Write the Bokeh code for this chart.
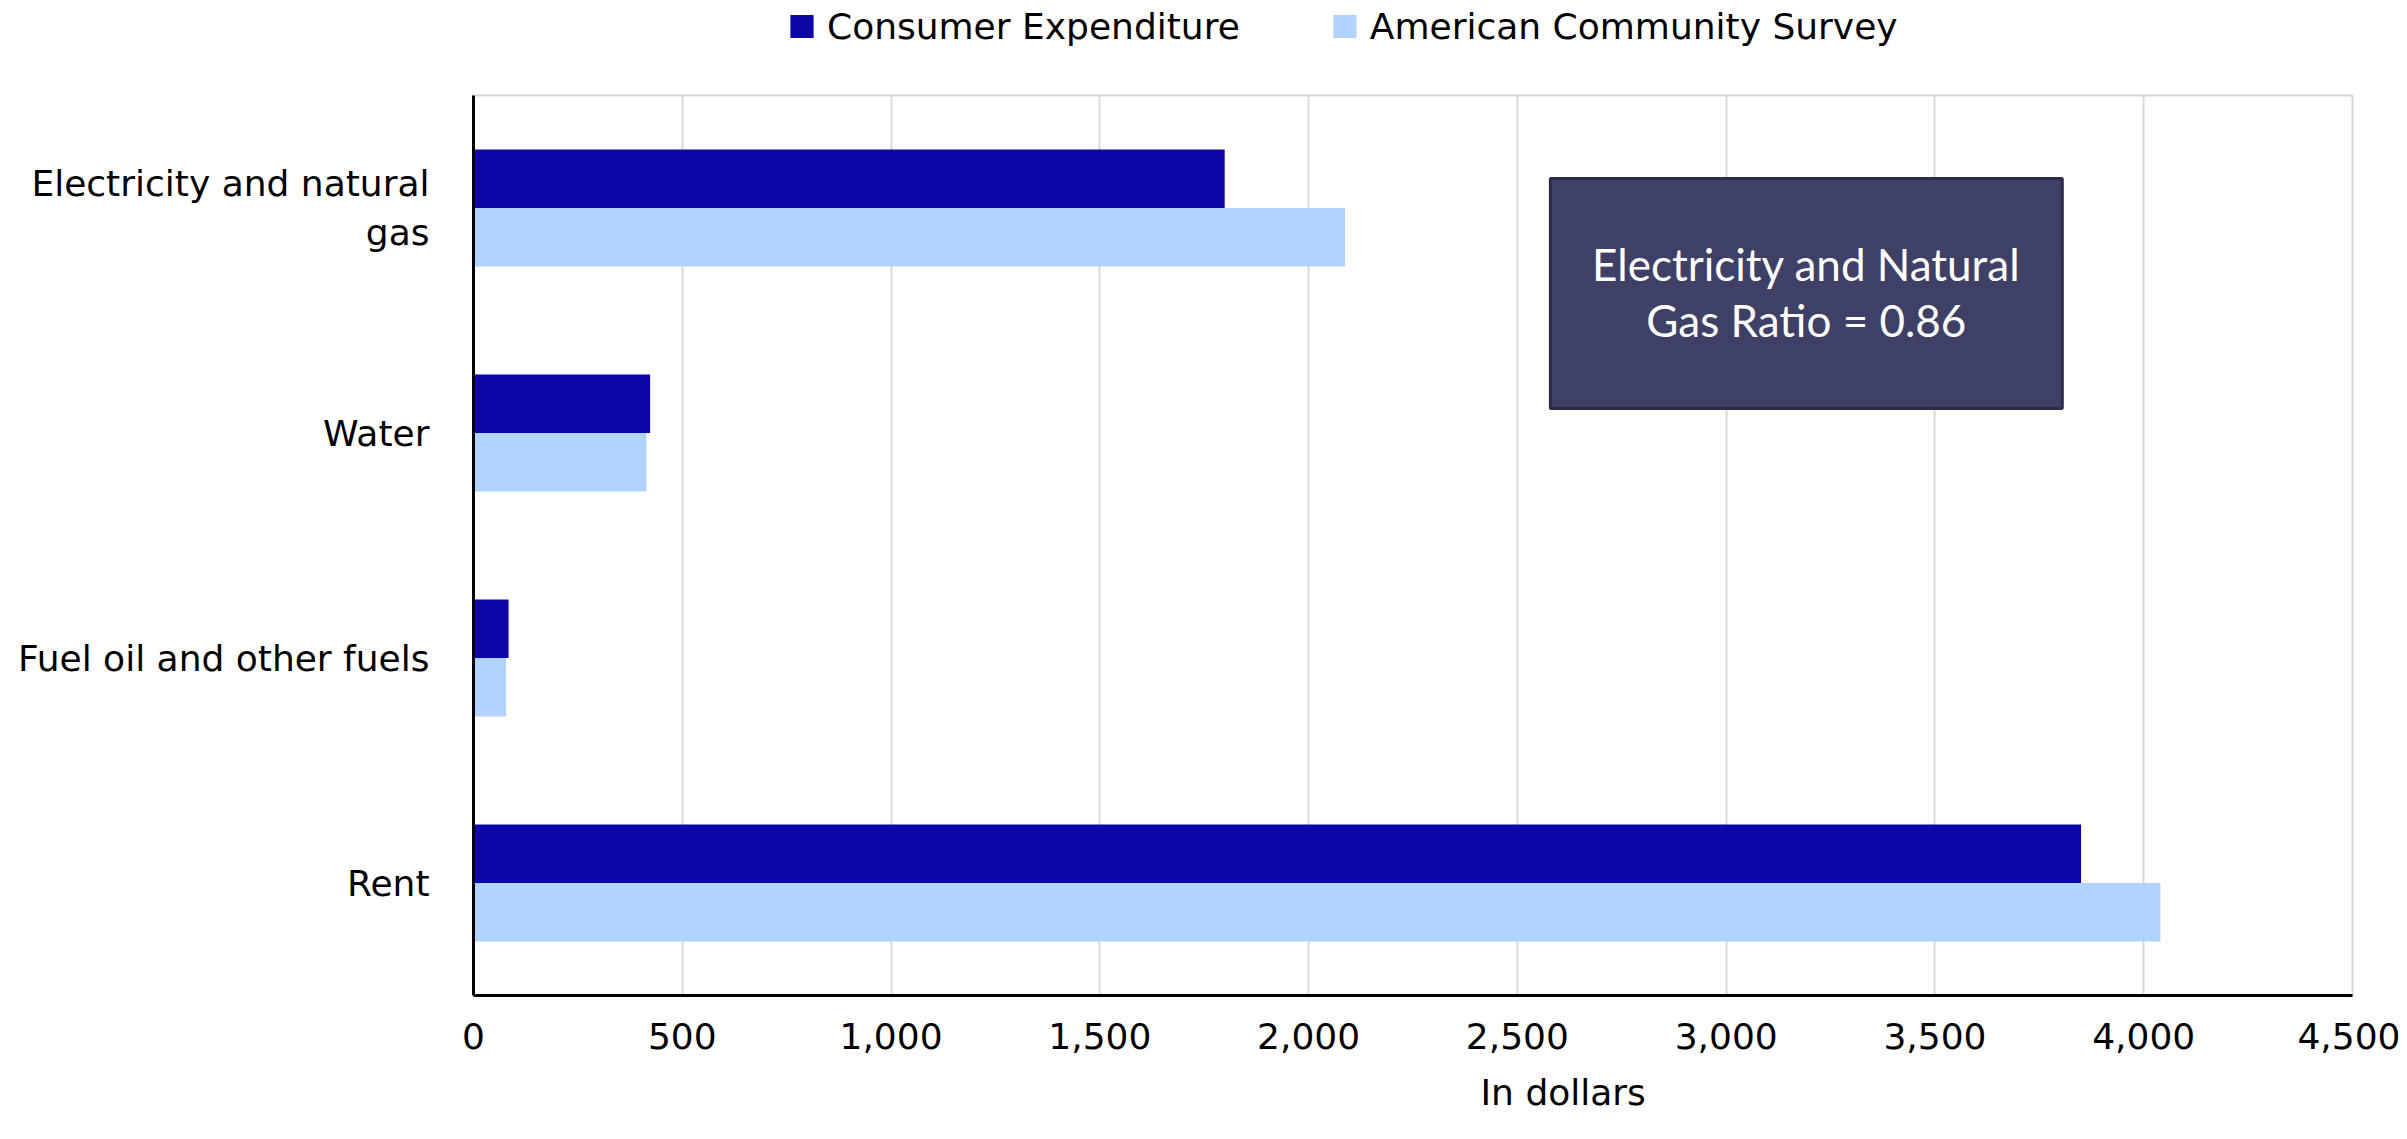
from bokeh.plotting import figure
from bokeh.layouts import column
from bokeh.models import (FactorRange, Range1d, Legend, LegendItem, Label, BoxAnnotation,
                          NumeralTickFormatter, FixedTicker, ColumnDataSource, Title)
from bokeh.transform import dodge
from bokeh.embed import file_html
from bokeh.resources import INLINE

# ---- data ----
categories = ["Rent", "Fuel oil and other fuels", "Water", "Electricity and natural\ngas"]
consumer_expenditure = [3850, 84, 423, 1799]
american_community_survey = [4040, 78, 414, 2087]
series_names = ["Consumer Expenditure", "American Community Survey"]
x_ticks = [0, 500, 1000, 1500, 2000, 2500, 3000, 3500, 4000, 4500]
x_title = "In dollars"

ratio = consumer_expenditure[3] / american_community_survey[3]
box_lines = ["Electricity and Natural", "Gas Ratio = %.2f" % ratio]

CE_COLOR = "#0e06a6"
ACS_COLOR = "#b1d3ff"
FONT = "DejaVu Sans"
W = 2400
LEG_H = 52

src = ColumnDataSource(dict(cat=categories, ce=consumer_expenditure, acs=american_community_survey))

# ---------------- legend strip ----------------
leg_fig = figure(width=W, height=LEG_H, x_axis_type=None, y_axis_type=None,
                 y_range=FactorRange(factors=categories), x_range=Range1d(0, 4500),
                 output_backend="svg", toolbar_location=None, min_border=0,
                 outline_line_color=None)
leg_fig.xgrid.grid_line_color = None
leg_fig.ygrid.grid_line_color = None
# hidden copies of the two series: they only provide the legend swatches
l1 = leg_fig.hbar(y="cat", left=0, right="ce", height=0.26, source=src,
                  fill_color=CE_COLOR, line_color=None, visible=False)
l2 = leg_fig.hbar(y="cat", left=0, right="acs", height=0.26, source=src,
                  fill_color=ACS_COLOR, line_color=None, visible=False)
legend = Legend(items=[LegendItem(label=series_names[0], renderers=[l1]),
                       LegendItem(label=series_names[1], renderers=[l2])],
                orientation="horizontal", location="center_left", click_policy="none",
                glyph_width=29, glyph_height=29, label_standoff=11, spacing=90,
                padding=0, margin=314, border_line_color=None, background_fill_alpha=0,
                inactive_fill_alpha=0,
                label_text_font=FONT, label_text_font_size="36px", label_text_color="black")
leg_fig.add_layout(legend)

# ---------------- main chart ----------------
p = figure(width=W, height=1138 - LEG_H,
           y_range=FactorRange(factors=categories),
           x_range=Range1d(0, 4500),
           output_backend="svg", toolbar_location=None,
           min_border_left=473, min_border_right=48,
           min_border_top=95 - LEG_H, min_border_bottom=143)

r1 = p.hbar(y=dodge("cat", 0.13, range=p.y_range), left=0, right="ce", height=0.26,
            source=src, fill_color=CE_COLOR, line_color=None)
r2 = p.hbar(y=dodge("cat", -0.13, range=p.y_range), left=0, right="acs", height=0.26,
            source=src, fill_color=ACS_COLOR, line_color=None)

p.xgrid.grid_line_color = "#d9d9d9"
p.xgrid.grid_line_width = 2
p.ygrid.grid_line_color = None
p.outline_line_color = "#d9d9d9"
p.outline_line_width = 2
p.xaxis.ticker = FixedTicker(ticks=x_ticks)
p.xaxis.formatter = NumeralTickFormatter(format="0,0")

for ax in (p.xaxis, p.yaxis):
    ax.axis_line_color = "black"
    ax.axis_line_width = 3
    ax.major_tick_line_color = None
    ax.minor_tick_line_color = None
    ax.major_label_text_font = FONT
    ax.major_label_text_font_size = "36px"
    ax.major_label_text_color = "black"
p.yaxis.major_label_standoff = 38
p.xaxis.major_label_standoff = 21

# annotation box
box = BoxAnnotation(left=2579, right=3805, bottom=2.609, top=3.631,
                    fill_color="#3f4066", fill_alpha=1.0,
                    line_color="#2b2c4a", line_width=3, line_alpha=1.0)
p.add_layout(box)
for txt, yy in zip(box_lines, [3.249, 3.004]):
    p.add_layout(Label(x=3192, y=yy, text=txt, text_align="center", text_baseline="middle",
                       text_color="white", text_font="Lato", text_font_size="44px"))

# x title
p.add_layout(Title(text=x_title, align="left", offset=1007, standoff=36, text_font=FONT,
                   text_font_size="36px", text_font_style="normal", text_color="black"), "below")

layout = column(leg_fig, p, spacing=0)
open("out.html", "w").write(file_html(layout, INLINE))
